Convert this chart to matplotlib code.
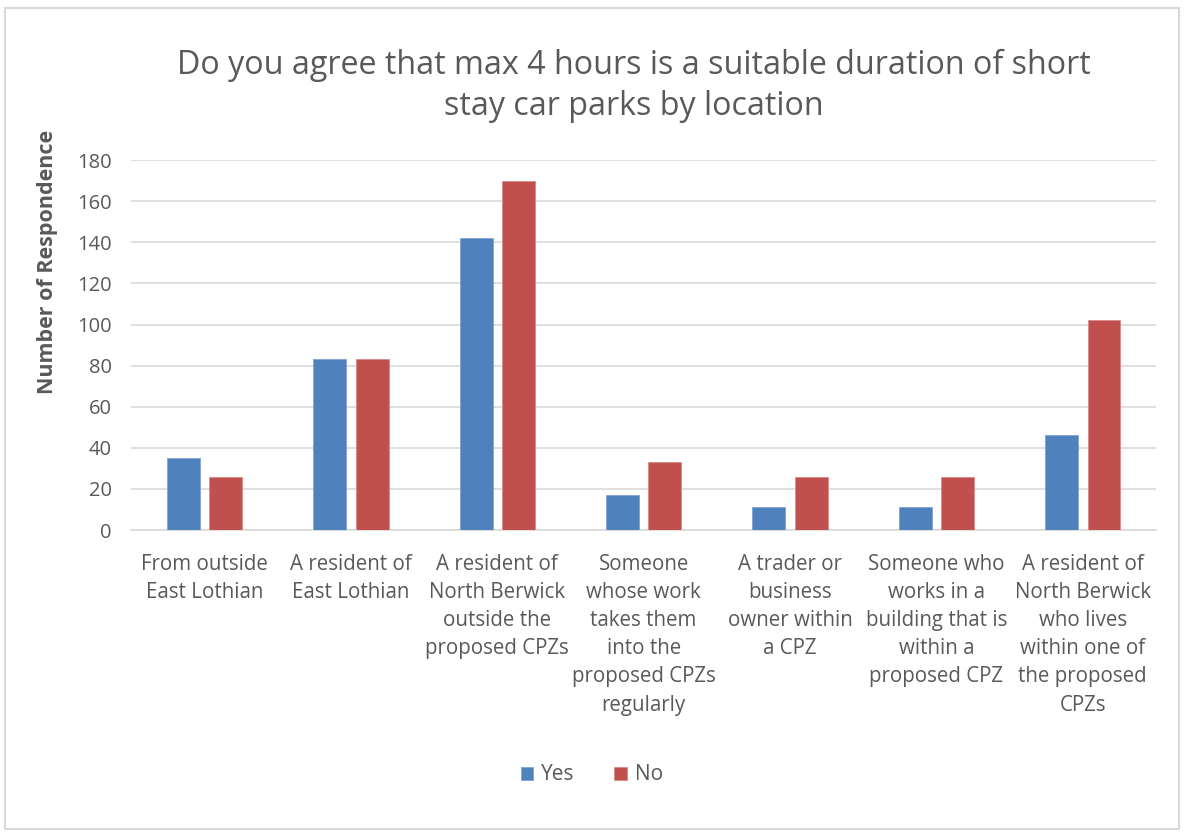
import matplotlib
matplotlib.use("Agg")
import matplotlib.pyplot as plt
import numpy as np
from matplotlib.patches import Rectangle

categories = [
    "From outside\nEast Lothian",
    "A resident of\nEast Lothian",
    "A resident of\nNorth Berwick\noutside the\nproposed CPZs",
    "Someone\nwhose work\ntakes them\ninto the\nproposed CPZs\nregularly",
    "A trader or\nbusiness\nowner within\na CPZ",
    "Someone who\nworks in a\nbuilding that is\nwithin a\nproposed CPZ",
    "A resident of\nNorth Berwick\nwho lives\nwithin one of\nthe proposed\nCPZs",
]
yes_values = [35, 83, 142, 17, 11, 11, 46]
no_values = [26, 83, 170, 33, 26, 26, 102]
y_ticks = [0, 20, 40, 60, 80, 100, 120, 140, 160, 180]

title = "Do you agree that max 4 hours is a suitable duration of short\nstay car parks by location"
y_label = "Number of Respondence"

plt.rcParams["font.family"] = ["Open Sans", "DejaVu Sans"]
text_color = "#595959"
blue = "#4F81BD"
red = "#C0504D"
grid_color = "#D9D9D9"

fig = plt.figure(figsize=(11.84, 8.34), dpi=100)
fig.patches.append(Rectangle((0.004, 0.006), 0.992, 0.985, transform=fig.transFigure,
                             fill=False, edgecolor="#D9D9D9", linewidth=1.5))

ax = fig.add_axes([0.111, 0.3645, 0.8653, 0.4435])
x = np.arange(len(categories))
w = 0.225
off = 0.145
ax.bar(x - off, yes_values, width=w, color=blue, edgecolor="#7FA3D3", linewidth=0.6, label="Yes", zorder=3)
ax.bar(x + off, no_values, width=w, color=red, edgecolor="#D98A88", linewidth=0.6, label="No", zorder=3)

ax.set_xlim(-0.5, len(categories) - 0.5)
ax.set_ylim(0, 180)
ax.set_yticks(y_ticks)
ax.set_yticklabels([str(v) for v in y_ticks], fontsize=14.5, color=text_color)
ax.set_xticks(x)
ax.set_xticklabels(categories, fontsize=14.8, color=text_color, linespacing=1.45, va="top")
ax.tick_params(axis="both", length=0)
ax.tick_params(axis="x", pad=17)
ax.tick_params(axis="y", pad=14)
ax.yaxis.grid(True, color=grid_color, linewidth=1.2, zorder=0)
ax.set_axisbelow(True)
for s in ["top", "right", "left"]:
    ax.spines[s].set_visible(False)
ax.spines["bottom"].set_color(grid_color)
ax.spines["bottom"].set_linewidth(1.2)

fig.text(0.040, 1 - 262 / 834, y_label, rotation=90, ha="center", va="center",
         fontsize=15.5, fontweight="bold", color=text_color)

fig.text(0.535, 1 - 86 / 834, title, ha="center", va="center", fontsize=23.2,
         color=text_color, linespacing=1.32)

fig.legend(loc="center", bbox_to_anchor=(0.5, 1 - 775 / 834), ncol=2, frameon=False,
           fontsize=15, handlelength=0.6, handleheight=0.6, columnspacing=1.9,
           handletextpad=0.4, labelcolor=text_color)

fig.savefig("out.png", dpi=100)
